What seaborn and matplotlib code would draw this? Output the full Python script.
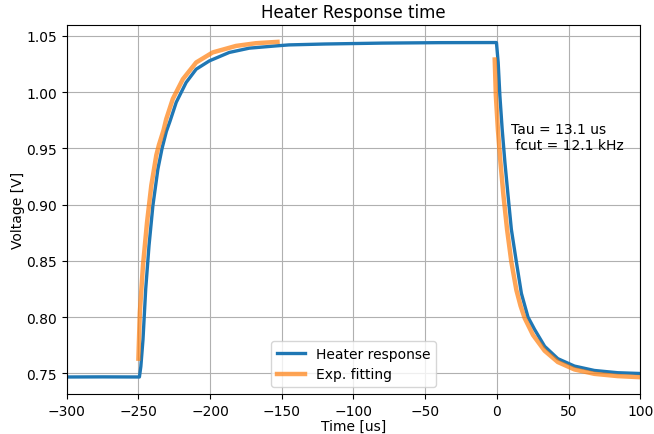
import pandas as pd
import matplotlib
matplotlib.use("Agg")
import matplotlib.pyplot as plt
import seaborn as sns

# Medición del calentador
t_medida = [-300, -275, -249.3, -248.3, -246.8, -244.9, -242.6, -239.9, -236.4, -233.5,
            -230.5, -228.0, -223.6, -216.7, -209.7, -200.5, -186.6, -172.7, -154.2, -145,
            -120, -80, -40, -0.3, 0.9, 2.1, 3.7, 5.6, 7.8, 10.1, 13.6, 17.1, 21.7, 26.3,
            33.3, 42.5, 54.1, 68.0, 84.2, 100]
v_medida = [0.7467, 0.7468, 0.7467, 0.756, 0.780, 0.825, 0.8635, 0.899, 0.9316, 0.950,
            0.965, 0.974, 0.991, 1.0086, 1.0204, 1.0278, 1.0353, 1.0391, 1.0411, 1.0420,
            1.0428, 1.0436, 1.0440, 1.0441, 1.0264, 0.9967, 0.967, 0.9376, 0.908, 0.878,
            0.849, 0.821, 0.800, 0.789, 0.7740, 0.763, 0.7564, 0.7525, 0.7505, 0.7498]

# Ajuste exponencial: subida y bajada
t_ajuste_sub = [-250, -249, -246.8, -244, -241, -237.5, -235.7, -232.5, -230.6, -226,
                -219, -209.7, -198.2, -181.9, -168, -153]
v_ajuste_sub = [0.763, 0.804, 0.846, 0.884, 0.917, 0.944, 0.953, 0.966, 0.976, 0.994,
                1.0115, 1.0264, 1.0353, 1.0411, 1.0435, 1.0447]

t_ajuste_baj = [-1.5, -0.7, 0.7, 2.5, 4.6, 7.1, 10.1, 13.6, 16.5, 19.4, 25.2, 33.3,
                42.5, 54.1, 68.0, 84.2, 100]
v_ajuste_baj = [1.029, 0.9967, 0.967, 0.9376, 0.908, 0.878, 0.849, 0.824, 0.810, 0.799,
                0.784, 0.770, 0.760, 0.7534, 0.7495, 0.7475, 0.7465]

texto_tau = "Tau = 13.1 us\n fcut = 12.1 kHz"

df_medida = pd.DataFrame({"t": t_medida, "v": v_medida})
df_sub = pd.DataFrame({"t": t_ajuste_sub, "v": v_ajuste_sub})
df_baj = pd.DataFrame({"t": t_ajuste_baj, "v": v_ajuste_baj})

fig, eje = plt.subplots(figsize=(6.54, 4.35), dpi=100)
fig.subplots_adjust(left=0.102, right=0.979, bottom=0.092, top=0.940)

sns.lineplot(data=df_medida, x="t", y="v", ax=eje, color="#1f77b4", linewidth=2.4,
             label="Heater response", estimator=None)
sns.lineplot(data=df_sub, x="t", y="v", ax=eje, color="#ff7f0e", linewidth=3.2,
             alpha=0.7, label="Exp. fitting", estimator=None)
sns.lineplot(data=df_baj, x="t", y="v", ax=eje, color="#ff7f0e", linewidth=3.2,
             alpha=0.7, estimator=None)

eje.text(10, 0.949, texto_tau, fontsize=10)

eje.set_xlim(-300, 100)
eje.set_title("Heater Response time", fontsize=12)
eje.set_xlabel("Time [us]", labelpad=1)
eje.set_ylabel("Voltage [V]", labelpad=1)
eje.grid(True)
eje.legend(loc="lower center")

fig.savefig("out.png", dpi=100)
